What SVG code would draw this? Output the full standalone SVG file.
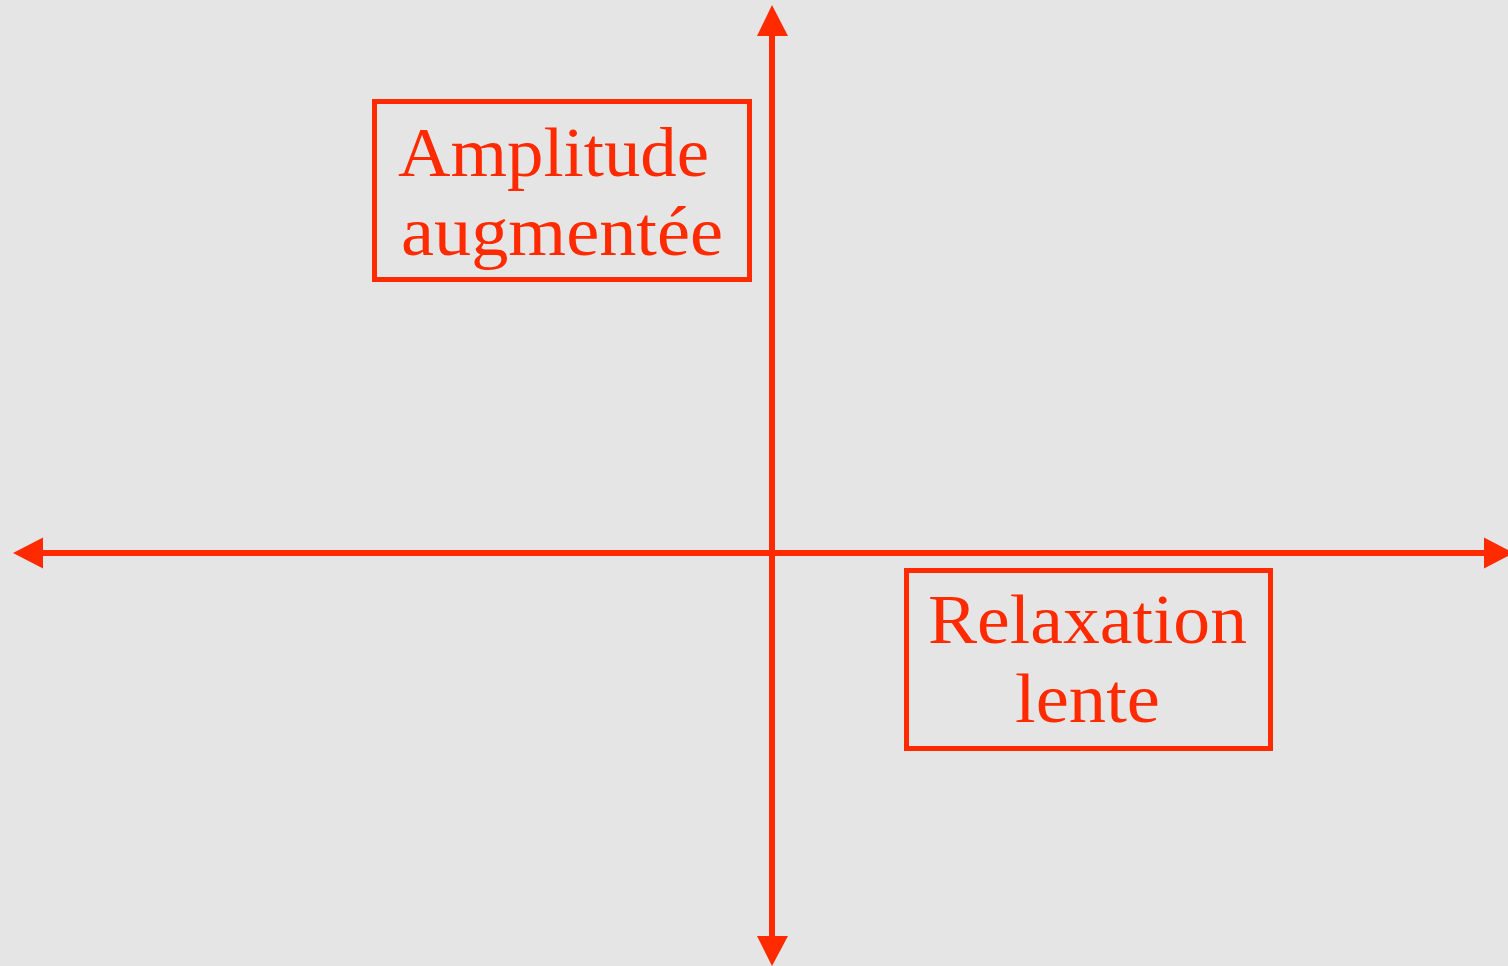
<svg xmlns="http://www.w3.org/2000/svg" width="1508" height="966" viewBox="0 0 1508 966">
<style>
.ax{stroke:#ff2a00;stroke-width:6;fill:none}
.hd{fill:#ff2a00}
.box{fill:none;stroke:#ff2a00;stroke-width:5}
.lbl{font-family:"Liberation Serif","DejaVu Serif",serif;font-size:70px;fill:#ff2a00}
</style>
<rect width="1508" height="966" fill="#e5e5e5"/>
<g id="connectors">
<line class="ax" x1="772" y1="30" x2="772" y2="940"/>
<line class="ax" x1="38" y1="553" x2="1490" y2="553"/>
<polygon class="hd" points="772,5 788,36 757,36"/>
<polygon class="hd" points="772,966 788,936 757,936"/>
<polygon class="hd" points="13,553 43,537.5 43,568.5"/>
<polygon class="hd" points="1514,553 1484,537.5 1484,568.5"/>
</g>
<g id="amplitude">
<rect class="box" x="374.5" y="101.5" width="375" height="178"/>
<text class="lbl" x="398" y="176" textLength="311" lengthAdjust="spacingAndGlyphs">Amplitude</text>
<text class="lbl" x="401" y="255" textLength="322" lengthAdjust="spacingAndGlyphs">augmentée</text>
</g>
<g id="relaxation">
<rect class="box" x="906.5" y="570.5" width="364" height="178"/>
<text class="lbl" x="928" y="643" textLength="319" lengthAdjust="spacingAndGlyphs">Relaxation</text>
<text class="lbl" x="1015" y="722" textLength="145" lengthAdjust="spacingAndGlyphs">lente</text>
</g>
</svg>
